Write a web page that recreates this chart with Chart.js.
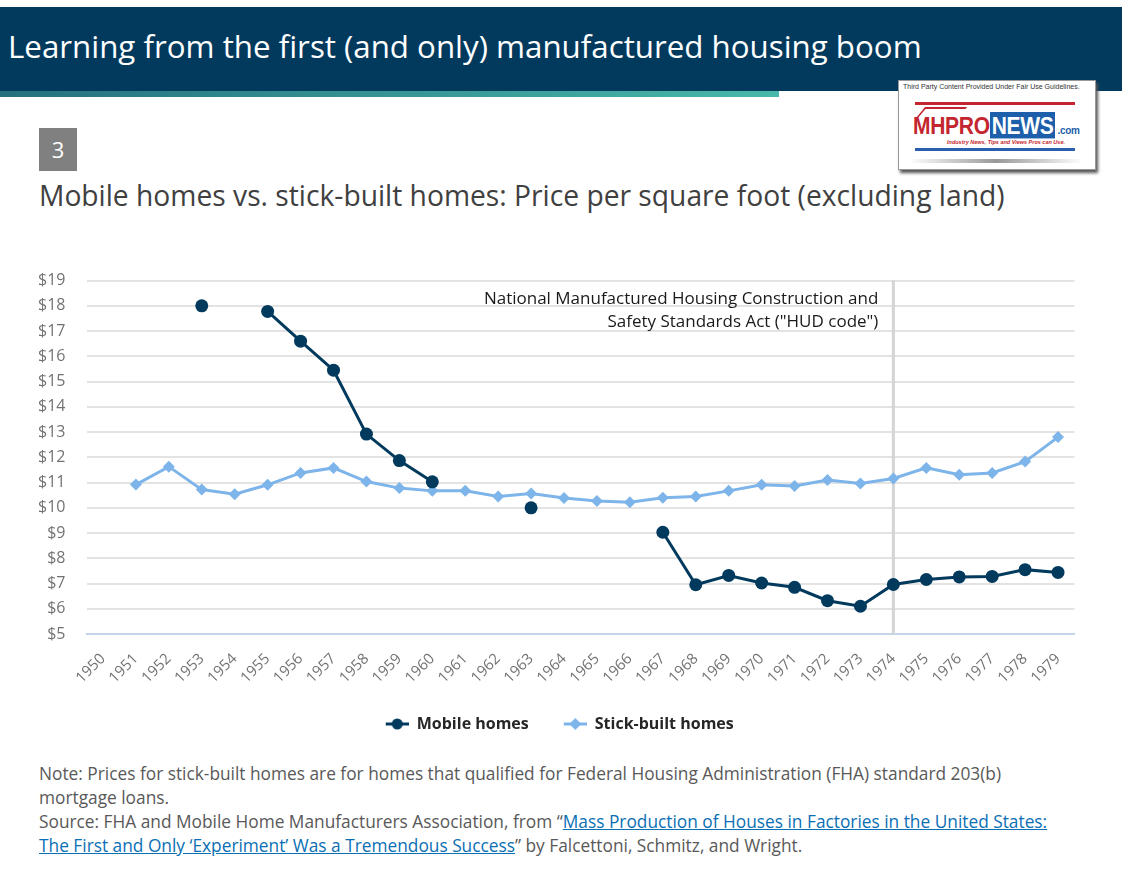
<!DOCTYPE html>
<html>
<head>
<meta charset="utf-8">
<script src="https://cdn.jsdelivr.net/npm/chart.js@4"></script>
<style>
  html, body { margin: 0; padding: 0; background: #fff; }
  body { width: 1122px; height: 873px; position: relative; overflow: hidden; font-family: "Open Sans", sans-serif; }
  .band { position: absolute; left: 0; top: 7px; width: 1122px; height: 84px; background: #023a5e; }
  .band h1 { margin: 0; position: absolute; left: 8px; top: 18px; font: 400 31px "Open Sans", sans-serif; line-height: normal; color: #fff; white-space: nowrap; }
  .teal { position: absolute; left: 0; top: 91px; width: 779px; height: 6px; background: linear-gradient(90deg, #24707f, #48b8aa); }
  .num { position: absolute; left: 39px; top: 128px; width: 38px; height: 43px; background: #808080; color: #fff; font: 22px "Open Sans", sans-serif; line-height: 43px; text-align: center; }
  .sub { position: absolute; left: 39px; top: 176px; font: 27px "Open Sans", sans-serif; line-height: normal; color: #404040; white-space: nowrap; }
  #wrap { position: absolute; left: 30px; top: 250px; width: 1060px; height: 492px; }
  .notes { position: absolute; left: 39px; top: 761px; font: 16px "Open Sans", sans-serif; color: #595959; line-height: 24px; white-space: nowrap; }
  .notes a { color: #0a6fb5; text-decoration: underline; }
  .logo { position: absolute; left: 898px; top: 80px; width: 196px; height: 88px; background: #fff; border: 1px solid #999; box-shadow: 2px 3px 3px #555; font-family: "Liberation Sans", sans-serif; }
  .logo .fair { position: absolute; left: 4px; top: 2px; font-size: 7px; color: #333; white-space: nowrap; }
  .logo .rl { position: absolute; left: 16px; top: 21px; width: 160px; height: 3px; background: #c3262e; }
  .logo .bl { position: absolute; left: 16px; top: 67px; width: 160px; height: 3px; background: #2a5fb0; }
  .logo .roof { position: absolute; left: 22px; top: 26px; width: 40px; height: 8px; border-top: 2px solid #c3262e; border-left: 2px solid #c3262e; transform: skewX(-40deg); }
  .logo .mark { position: absolute; left: 14px; top: 31px; font: 700 21px "Liberation Sans", sans-serif; color: #c3262e; white-space: nowrap; letter-spacing: -0.3px; transform: scaleY(1.15); transform-origin: left top; }
  .logo .mark span.n { background: #1d5fab; color: #fff; padding: 0 2px; }
  .logo .mark span.c { font-size: 10px; color: #1d5fab; margin-left: 2px; }
  .logo .tag { position: absolute; left: 48px; top: 58px; font: italic 700 5.5px "Liberation Sans", sans-serif; color: #c3262e; white-space: nowrap; }
  .logo .sh { position: absolute; left: 10px; top: 78px; width: 174px; height: 4px; background: linear-gradient(90deg, #fff, #999, #fff); }
</style>
</head>
<body>
<div class="band"><h1 id="title">Learning from the first (and only) manufactured housing boom</h1></div>
<div class="teal"></div>
<div class="logo">
  <div class="fair">Third Party Content Provided Under Fair Use Guidelines.</div>
  <div class="rl"></div>
  <div class="roof"></div>
  <div class="mark">MHPRO<span class="n">NEWS</span><span class="c">.com</span></div>
  <div class="tag">Industry News, Tips and Views Pros can Use.</div>
  <div class="bl"></div>
  <div class="sh"></div>
</div>
<div class="num">3</div>
<div class="sub" id="sub">Mobile homes vs. stick-built homes: Price per square foot (excluding land)</div>
<div id="wrap"><canvas id="chart"></canvas></div>
<div class="notes" id="notes">
Note: Prices for stick-built homes are for homes that qualified for Federal Housing Administration (FHA) standard 203(b)<br>
mortgage loans.<br>
Source: FHA and Mobile Home Manufacturers Association, from “<a>Mass Production of Houses in Factories in the United States:</a><br>
<a>The First and Only ‘Experiment’ Was a Tremendous Success</a>” by Falcettoni, Schmitz, and Wright.
</div>
<script>
const years = ['1950','1951','1952','1953','1954','1955','1956','1957','1958','1959',
  '1960','1961','1962','1963','1964','1965','1966','1967','1968','1969',
  '1970','1971','1972','1973','1974','1975','1976','1977','1978','1979'];
const mobileHomes = [null, null, null, 18.0, null, 17.78, 16.6, 15.45, 12.92, 11.87,
  11.03, null, null, 10.0, null, null, null, 9.03, 6.95, 7.32,
  7.02, 6.85, 6.32, 6.1, 6.96, 7.16, 7.26, 7.28, 7.55, 7.44];
const stickBuilt = [null, 10.92, 11.63, 10.72, 10.54, 10.91, 11.38, 11.58, 11.04, 10.78,
  10.67, 10.67, 10.45, 10.57, 10.39, 10.27, 10.22, 10.4, 10.45, 10.67,
  10.91, 10.86, 11.1, 10.96, 11.16, 11.58, 11.31, 11.38, 11.83, 12.8];
const yMin = 5, yMax = 19;
const hudYear = '1974';
const hudLabel = ['National Manufactured Housing Construction and', 'Safety Standards Act ("HUD code")'];

const navy = '#023a5e', lightBlue = '#7db4ea';
const font = '"Open Sans", sans-serif';

// stretch a text block's font size so it spans the same width as in the original
const fitWidth = (id, w) => {
  const el = document.getElementById(id);
  const fs = parseFloat(getComputedStyle(el).fontSize);
  el.style.fontSize = (fs * w / el.getBoundingClientRect().width).toFixed(2) + 'px';
};
fitWidth('title', 914);
fitWidth('sub', 966);
fitWidth('notes', 1009);

// legend icons: a short line with the marker in the middle (blank space on the left)
const legendIcon = (color, shape) => {
  const c = document.createElement('canvas');
  c.width = 38; c.height = 14;
  const g = c.getContext('2d');
  g.strokeStyle = color; g.fillStyle = color; g.lineWidth = 3;
  g.beginPath(); g.moveTo(15, 7); g.lineTo(38, 7); g.stroke();
  g.beginPath();
  if (shape === 'circle') g.arc(26.5, 7, 5.5, 0, Math.PI * 2);
  else { g.moveTo(26.5, 1); g.lineTo(32.5, 7); g.lineTo(26.5, 13); g.lineTo(20.5, 7); g.closePath(); }
  g.fill();
  return c;
};

const hudLine = {
  id: 'hudLine',
  beforeDatasetsDraw(chart) {
    const {ctx, chartArea, scales} = chart;
    const x = scales.x.getPixelForValue(years.indexOf(hudYear));
    ctx.save();
    ctx.strokeStyle = '#d4d4d4'; ctx.lineWidth = 3;
    ctx.beginPath(); ctx.moveTo(x, chartArea.top); ctx.lineTo(x, chartArea.bottom); ctx.stroke();
    ctx.fillStyle = '#1a1a1a'; ctx.font = '17px ' + font;
    ctx.textAlign = 'right'; ctx.textBaseline = 'middle';
    hudLabel.forEach((t, i) => ctx.fillText(t, x - 15, chartArea.top + 19 + i * 23));
    ctx.restore();
  }
};

new Chart(document.getElementById('chart'), {
  type: 'line',
  data: {
    labels: years,
    datasets: [{
      label: 'Mobile homes', data: mobileHomes,
      borderColor: navy, backgroundColor: navy, borderWidth: 3,
      pointStyle: 'circle', pointRadius: 6.5, pointHoverRadius: 6.5, pointBorderWidth: 0,
      spanGaps: false, tension: 0
    }, {
      label: 'Stick-built homes', data: stickBuilt,
      borderColor: lightBlue, backgroundColor: lightBlue, borderWidth: 3,
      pointStyle: 'rectRot', pointRadius: 6, pointHoverRadius: 6, pointBorderWidth: 0,
      spanGaps: false, tension: 0
    }]
  },
  options: {
    responsive: true, maintainAspectRatio: false, animation: false,
    layout: { padding: { top: 24, right: 15.5, left: 0, bottom: 0 } },
    plugins: {
      tooltip: { enabled: false },
      legend: {
        position: 'bottom',
        labels: {
          usePointStyle: true, pointStyleWidth: 38, padding: 20,
          color: '#262626', font: { family: font, size: 16, weight: 'bold' },
          generateLabels: (chart) => chart.data.datasets.map((d, i) => ({
            text: d.label, datasetIndex: i, fontColor: '#262626', lineWidth: 0,
            pointStyle: legendIcon(d.borderColor, i === 0 ? 'circle' : 'diamond')
          }))
        }
      }
    },
    scales: {
      x: {
        offset: true,
        grid: { display: false, drawTicks: false },
        border: { color: '#c5d4e8', width: 2 },
        ticks: { color: '#737373', font: { family: font, size: 15 }, maxRotation: 45, minRotation: 45, padding: 16, autoSkip: false },
        afterFit: (s) => { s.height = 62; }
      },
      y: {
        min: yMin, max: yMax,
        grid: { color: '#e3e3e3', lineWidth: 2, drawTicks: false },
        border: { display: false },
        ticks: { stepSize: 1, color: '#737373', font: { family: font, size: 16 }, padding: 21, callback: (v) => '$' + v },
        afterFit: (s) => { s.width = 56.5; }
      }
    }
  },
  plugins: [hudLine]
});
</script>
</body>
</html>
